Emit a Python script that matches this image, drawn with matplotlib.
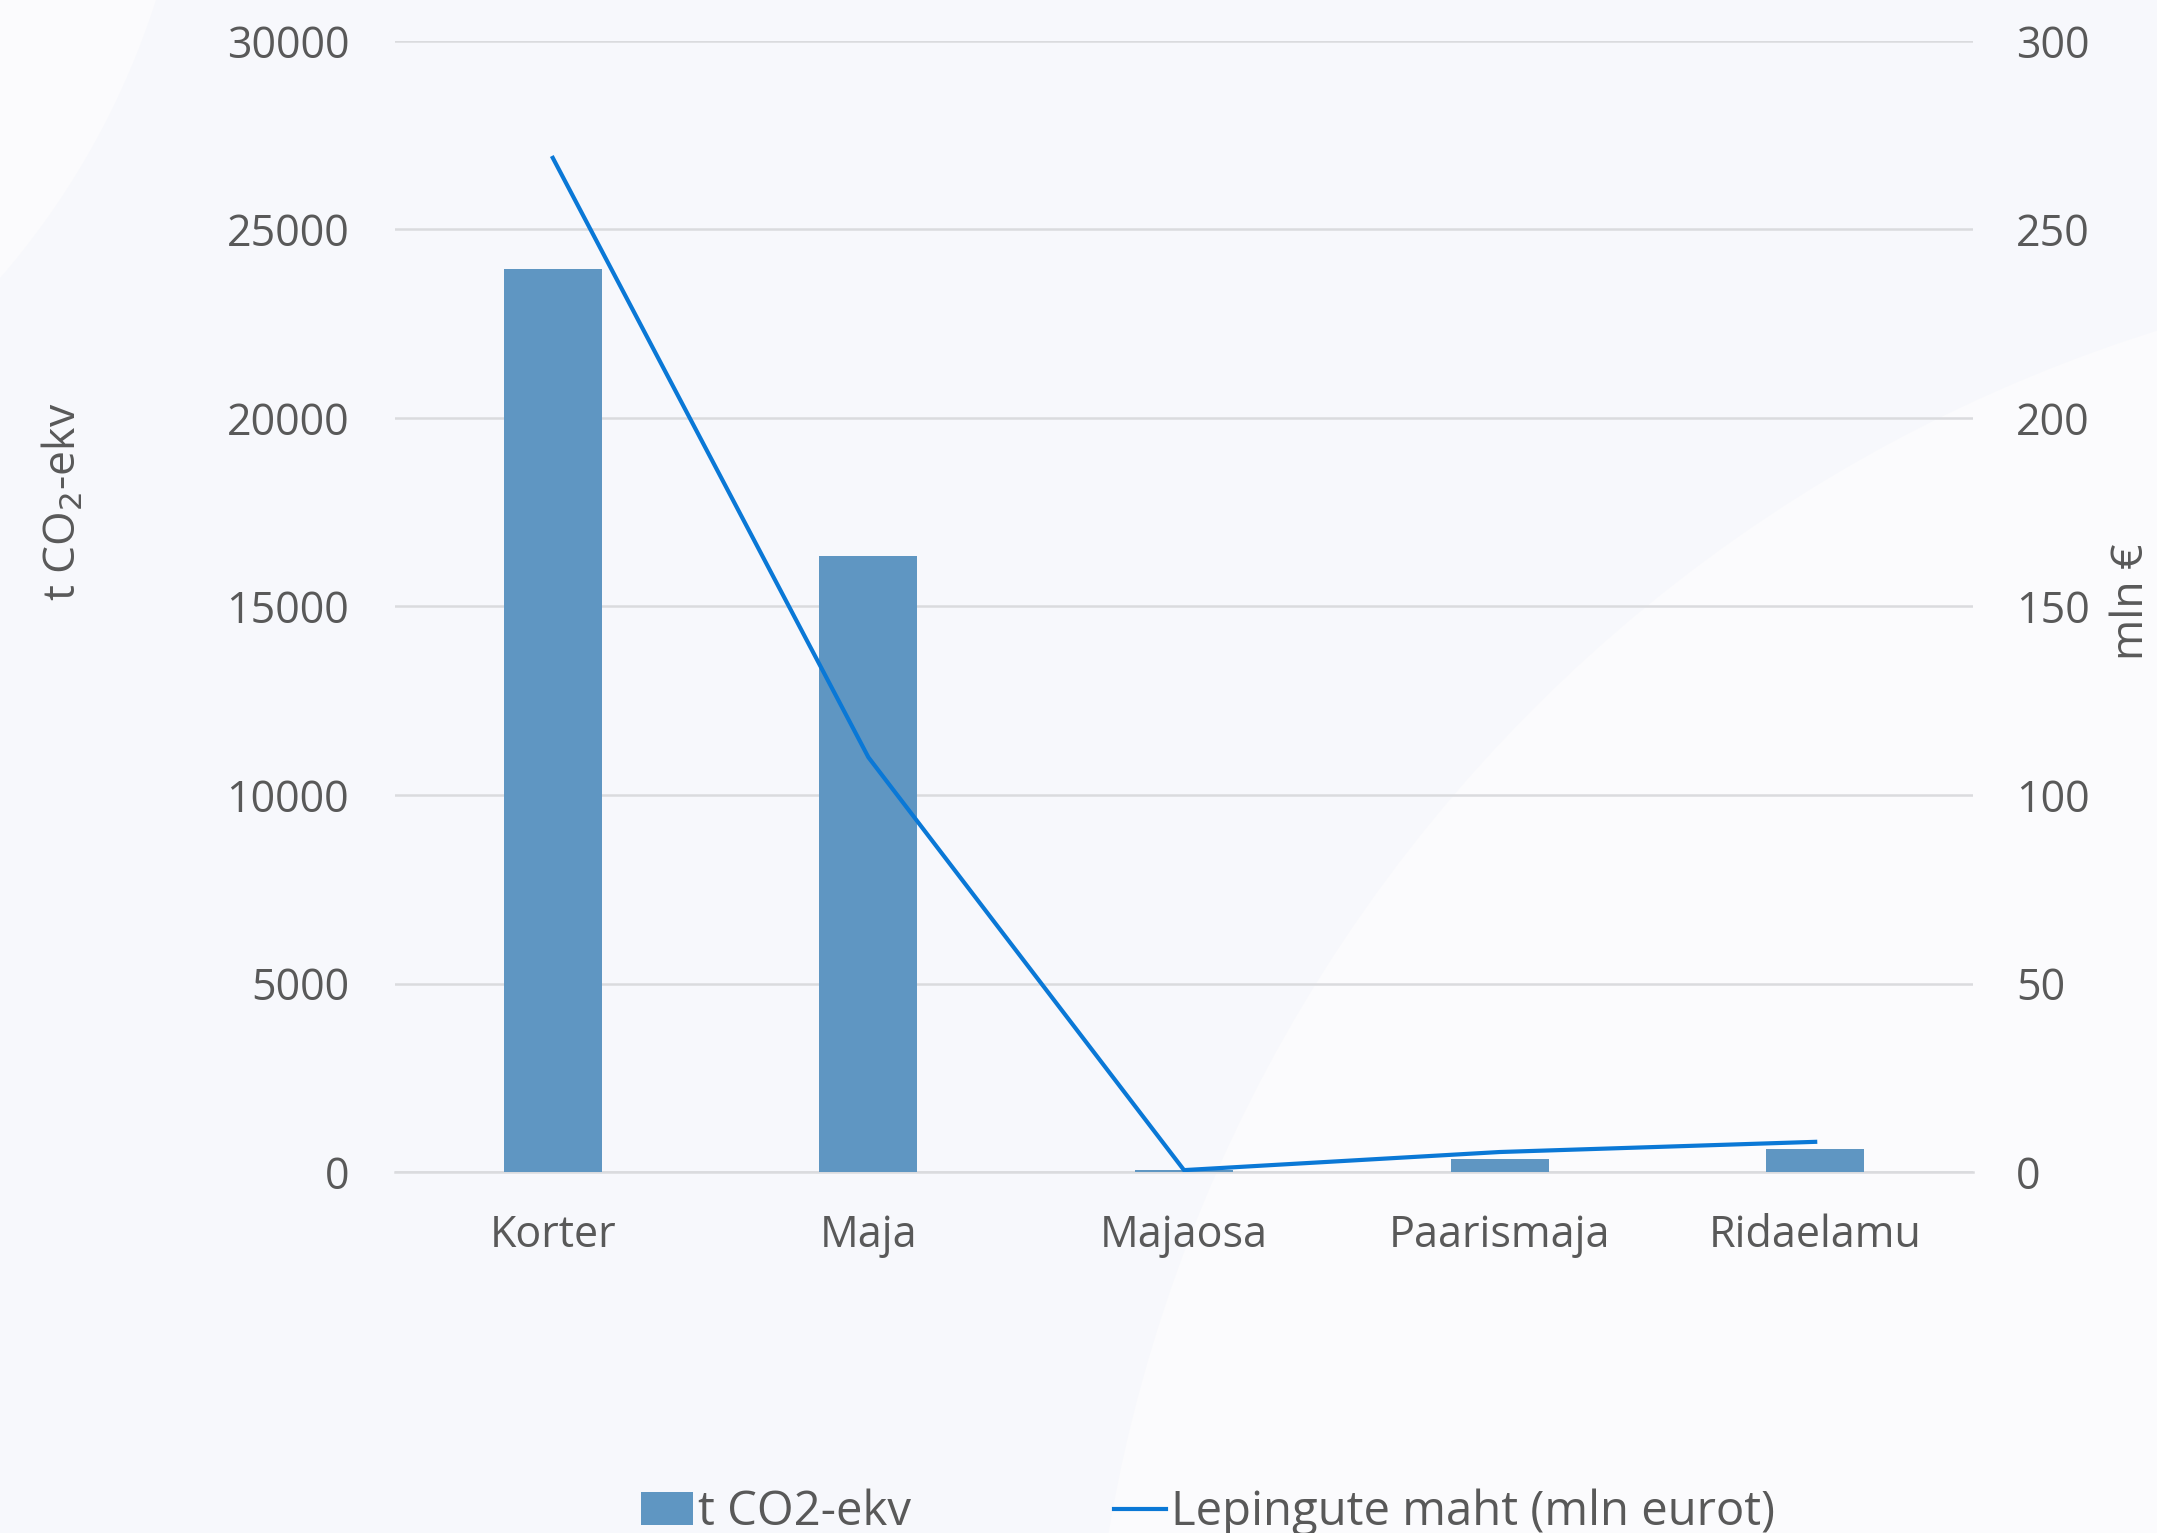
import matplotlib
matplotlib.use("Agg")
import matplotlib.pyplot as plt
from matplotlib.patches import Ellipse, Patch
from matplotlib.lines import Line2D
import numpy as np

# --- data ---
categories = ["Korter", "Maja", "Majaosa", "Paarismaja", "Ridaelamu"]
co2_t = [23950, 16330, 40, 350, 610]          # t CO2-ekv (left axis)
contracts_mln = [269, 110, 0.5, 5.3, 8.0]     # Lepingute maht, mln eurot (right axis)
left_ticks = [0, 5000, 10000, 15000, 20000, 25000, 30000]
right_ticks = [0, 50, 100, 150, 200, 250, 300]

plt.rcParams['font.family'] = ['Open Sans', 'DejaVu Sans']
text_col = '#595959'
bar_col = '#5f96c2'
line_col = '#0a78d6'
bg = '#f7f8fc'

fig = plt.figure(figsize=(21.57, 15.33), dpi=100, facecolor=bg)

# faint decorative background shapes
fig.patches.append(Ellipse((1.212, -0.166), 1.416, 1.992, transform=fig.transFigure,
                           facecolor='#fbfbfd', edgecolor='none', zorder=-10))
fig.patches.append(Ellipse((-0.26, 1.16), 0.70, 1.02, transform=fig.transFigure,
                           facecolor='#fbfbfd', edgecolor='none', zorder=-10))

ax = fig.add_axes([395 / 2157, 1 - 1172 / 1533, (1973 - 395) / 2157, (1172 - 41) / 1533])
ax.set_facecolor('none')
x = np.arange(len(categories))

ax.bar(x, co2_t, width=0.31, color=bar_col, zorder=3)
ax.set_ylim(0, 30000)
ax.set_xlim(-0.5, len(categories) - 0.5)
ax.set_yticks(left_ticks)
ax.set_yticklabels([str(t) for t in left_ticks])
ax.grid(axis='y', color='#dadbde', linewidth=1.8, zorder=0)
ax.set_axisbelow(True)
ax.set_xticks(x)
ax.set_xticklabels(categories)
for s in ['top', 'right', 'left']:
    ax.spines[s].set_visible(False)
ax.spines['bottom'].set_color('#dadbde')
ax.spines['bottom'].set_linewidth(1.8)
ax.tick_params(axis='y', length=0, pad=33, labelsize=31, labelcolor=text_col)
ax.tick_params(axis='x', length=0, pad=30, labelsize=31, labelcolor=text_col)

ax2 = ax.twinx()
ax2.plot(x, contracts_mln, color=line_col, linewidth=3, zorder=4)
ax2.set_ylim(0, 300)
ax2.set_yticks(right_ticks)
ax2.set_yticklabels([str(t) for t in right_ticks])
for s in ['top', 'right', 'left', 'bottom']:
    ax2.spines[s].set_visible(False)
ax2.tick_params(axis='y', length=0, pad=31, labelsize=31, labelcolor=text_col)

fig.text(64 / 2157, 1 - 502 / 1533, 't CO$_2$-ekv', rotation=90, ha='center', va='center',
         fontsize=32, color=text_col)
fig.text(2132 / 2157, 1 - 602 / 1533, 'mln €', rotation=90, ha='center', va='center',
         fontsize=32, color=text_col)

handles = [Patch(facecolor=bar_col, edgecolor='none'),
           Line2D([0], [0], color=line_col, linewidth=3)]
leg = fig.legend(handles, ['t CO2-ekv', 'Lepingute maht (mln eurot)'],
                 loc='lower center', bbox_to_anchor=(1208 / 2157, -0.03), ncol=2,
                 frameon=False, fontsize=34, handlelength=1.1, handletextpad=0.1,
                 columnspacing=4.3, labelcolor=text_col)

fig.savefig('out.png', dpi=100, facecolor=bg)
